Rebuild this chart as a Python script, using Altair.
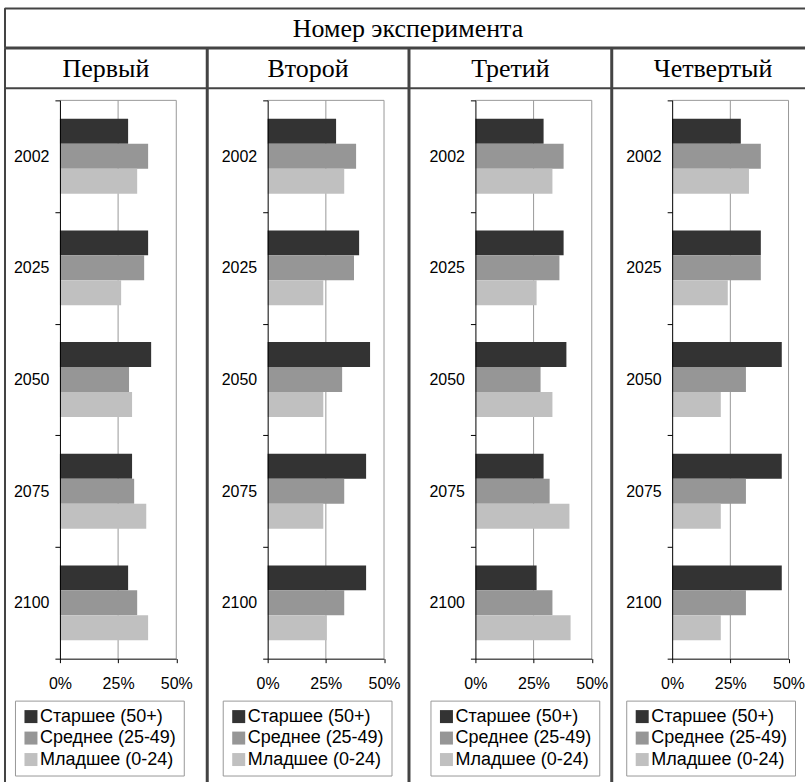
import altair as alt
import pandas as pd

# ---------------- data ----------------
years = ["2002", "2025", "2050", "2075", "2100"]
groups = ["Старшее (50+)", "Среднее (25-49)", "Младшее (0-24)"]
group_colors = ["#333333", "#969696", "#c0c0c0"]
experiments = ["Первый", "Второй", "Третий", "Четвертый"]
header = "Номер эксперимента"
x_ticks = [0, 25, 50]
grid_ticks = [25, 50]

old_share = [
    [29.3, 37.9, 39.2, 31.0, 29.3],
    [29.4, 39.3, 44.0, 42.3, 42.3],
    [29.3, 37.9, 39.1, 29.3, 26.3],
    [29.5, 38.1, 47.1, 47.1, 47.1],
]
mid_share = [
    [37.9, 36.2, 29.7, 31.9, 33.2],
    [38.0, 37.1, 32.0, 32.9, 32.9],
    [37.9, 36.1, 28.0, 31.9, 33.1],
    [38.1, 38.1, 31.7, 31.7, 31.7],
]
young_share = [
    [33.2, 26.3, 31.0, 37.1, 37.9],
    [32.9, 23.9, 23.9, 23.9, 25.4],
    [33.1, 26.3, 33.1, 40.4, 40.9],
    [33.0, 23.9, 20.9, 20.9, 20.9],
]

# ---------------- layout ----------------
panel_w = [202, 201, 202, 202]
axis_x = [55, 60, 66, 60]
legend_x = [10, 15, 21, 14]
TITLE_H = 39
HEAD_H = 40
BODY_H = 700
PLOT_TOP = 12
PLOT_BOTTOM = 571
PLOT_W = 116.5
LEGEND_Y = 613
GRID = "#999999"
BORDER = "#444444"
BORDER_W = 2
SANS = "Liberation Sans"
SERIF = "Liberation Serif"
PAD_LEFT = 4
PAD_TOP = 7
CANVAS_W = 805
CANVAS_H = 783


def body(i):
    rows = []
    for g, series in zip(groups, [old_share[i], mid_share[i], young_share[i]]):
        for y, v in zip(years, series):
            rows.append({"year": y, "group": g, "value": v})
    df = pd.DataFrame(rows)

    x_scale = alt.Scale(domain=[0, 50], range=[axis_x[i], axis_x[i] + PLOT_W],
                        nice=False, zero=True)
    grid = alt.Chart(pd.DataFrame({"tick": grid_ticks})).mark_rule(
        color=GRID, strokeWidth=1).encode(
        x=alt.X("tick:Q", scale=x_scale), y=alt.value(PLOT_TOP),
        y2=alt.value(PLOT_BOTTOM))
    bars = alt.Chart(df).mark_bar(strokeWidth=0).encode(
        x=alt.X("value:Q", scale=x_scale,
                axis=alt.Axis(values=x_ticks, labelExpr="datum.value + '%'",
                              orient="bottom", offset=-(BODY_H - PLOT_BOTTOM),
                              domainColor="black", tickColor="black", tickSize=4,
                              labelFontSize=16, labelFont=SANS, labelColor="black",
                              labelPadding=13, grid=False, title=None,
                              labelFlush=False, labelOverlap=False, zindex=1)),
        y=alt.Y("year:N", sort=years,
                scale=alt.Scale(range=[PLOT_TOP, PLOT_BOTTOM], paddingInner=0,
                                paddingOuter=0),
                axis=alt.Axis(orient="left", offset=-axis_x[i], tickBand="extent",
                              domainColor="black", tickColor="black", tickSize=5,
                              labelFontSize=16, labelFont=SANS, labelColor="black",
                              labelPadding=6, title=None, grid=False, zindex=1)),
        yOffset=alt.YOffset("group:N", sort=groups,
                            scale=alt.Scale(paddingInner=0, paddingOuter=0.736)),
        color=alt.Color("group:N", sort=groups,
                        scale=alt.Scale(domain=groups, range=group_colors),
                        legend=alt.Legend(orient="none", legendX=legend_x[i],
                                          legendY=LEGEND_Y, title=None,
                                          symbolType="square", symbolSize=169,
                                          symbolStrokeWidth=0, symbolOpacity=1,
                                          labelFontSize=18, labelFont=SANS,
                                          labelColor="black", labelOffset=0,
                                          labelLimit=300, rowPadding=3.5,
                                          padding=7, strokeColor=GRID,
                                          fillColor="white")),
    )
    top_edge = alt.Chart(pd.DataFrame({"edge": [0]})).mark_rule(
        color=GRID, strokeWidth=1).encode(
        x=alt.datum(0), x2=alt.datum(50), y=alt.value(PLOT_TOP))
    return alt.layer(grid, bars, top_edge).properties(width=panel_w[i], height=BODY_H)


def head(i):
    return alt.Chart(pd.DataFrame({"t": [experiments[i]]})).mark_text(
        font=SERIF, fontSize=26, color="black").encode(
        text="t:N", x=alt.value(panel_w[i] / 2), y=alt.value(HEAD_H / 2 + 1)
    ).properties(width=panel_w[i], height=HEAD_H)


total_w = sum(panel_w)
title_chart = alt.Chart(pd.DataFrame({"t": [header]})).mark_text(
    font=SERIF, fontSize=26, color="black").encode(
    text="t:N", x=alt.value(total_w / 2), y=alt.value(TITLE_H / 2 + 1)
).properties(width=total_w, height=TITLE_H)

columns = []
for i in range(4):
    col = alt.vconcat(head(i), body(i), spacing=0, bounds="flush").resolve_scale(
        color="independent", yOffset="independent", x="independent")
    columns.append(col)

row = alt.hconcat(*columns, spacing=-2 * BORDER_W).resolve_scale(
    color="independent", yOffset="independent")

# the table runs past the right and bottom edges of the picture, as in the scan
content_w = total_w + 2 * BORDER_W
content_h = TITLE_H + HEAD_H + BODY_H + 2 * BORDER_W
pad_right = CANVAS_W - PAD_LEFT - content_w
pad_bottom = CANVAS_H - PAD_TOP - content_h

chart = alt.vconcat(title_chart, row, spacing=-2 * BORDER_W).properties(
    padding={"left": PAD_LEFT, "top": PAD_TOP, "right": pad_right,
             "bottom": pad_bottom}
).configure(
    font=SANS, background="white"
).configure_view(stroke=BORDER, strokeWidth=BORDER_W, fill="white",
                 strokeJoin="bevel")

chart.save("out.html", embed_options={"renderer": "svg", "actions": False})
